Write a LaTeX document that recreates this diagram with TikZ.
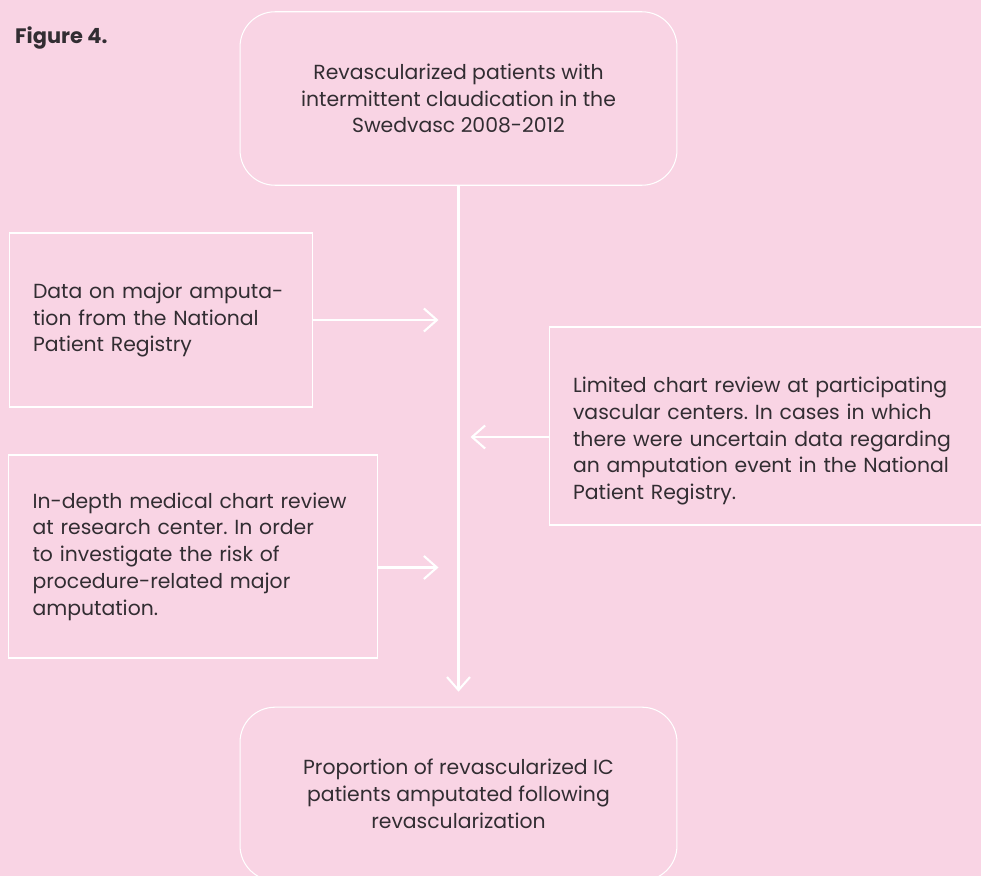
\documentclass[tikz,border=0pt]{standalone}
\usepackage{fontspec}
\setmainfont{Poppins}
\usepackage{xcolor}
\usetikzlibrary{arrows.meta,positioning}

\definecolor{bgpink}{RGB}{249,212,228}
\definecolor{inkgray}{RGB}{50,45,50}
\frenchspacing

\begin{document}
\begin{tikzpicture}[
    x=0.02cm, y=-0.02cm,
    >={Straight Barb[length=2.6mm,width=4.6mm]},
    font=\fontsize{11.6}{15.2}\selectfont,
    text=inkgray,
    stage/.style={
		rectangle,
		rounded corners=0.7cm,
		draw=white,
		line width=0.6pt,
		align=center,
		minimum width=8.74cm,
		minimum height=3.47cm
	},
	source/.style={
		rectangle,
		draw=white,
		line width=0.6pt,
		align=left,
		inner xsep=0.48cm
	},
	flow/.style={
		draw=white,
		line width=1.2pt,
		->
	}
  ]
    % background and page size
  \fill [bgpink] (0,0) rectangle (981,876);
  \useasboundingbox (0,0) rectangle (981,876);
  \clip (0,0) rectangle (981,876);

  \node [anchor=base west, font=\fontsize{11.9}{15.2}\selectfont\bfseries] (figlabel) at (9,43) {Figure 4.};

    % the two stages
  \node [stage] (cohort) at (458.5,98.5)
 {Revascularized patients with\\
  intermittent claudication in the\\
  Swedvasc 2008-2012};

  \node [stage, below=10.42cm of cohort] (outcome)
 {Proportion of revascularized IC\\
  patients amputated following\\
  revascularization};

    % the data sources
  \node [source, text width=5.12cm, minimum height=3.48cm] (regdata) at (161,320)
 {Data on major amputa-\\
  tion from the National\\
  Patient Registry};

  \node [source, text width=6.42cm, minimum height=4.06cm] (chart) at (193,556.5)
 {In-depth medical chart review\\
  at research center. In order\\
  to investigate the risk of\\
  procedure-related major\\
  amputation.};

  \node [source, text width=8.24cm, minimum height=3.96cm] (limited) at (779,426)
 {\rule{0pt}{0.92cm}Limited chart review at participating\\
  vascular centers. In cases in which\\
  there were uncertain data regarding\\
  an amputation event in the National\\
  Patient Registry.};

 \draw [flow, shorten >=0.3cm] (cohort) -- (outcome);
 \draw [flow, shorten >=0.4cm] (regdata.east) -- (regdata.east -| cohort.south);
 \draw [flow, shorten >=0.4cm] ([yshift=-0.22cm]chart.east) -- ([yshift=-0.22cm]chart.east -| cohort.south);
 \draw [flow, shorten >=0.24cm] ([yshift=-0.22cm]limited.west) -- ([yshift=-0.22cm]limited.west -| cohort.south);

\end{tikzpicture}
\end{document}
